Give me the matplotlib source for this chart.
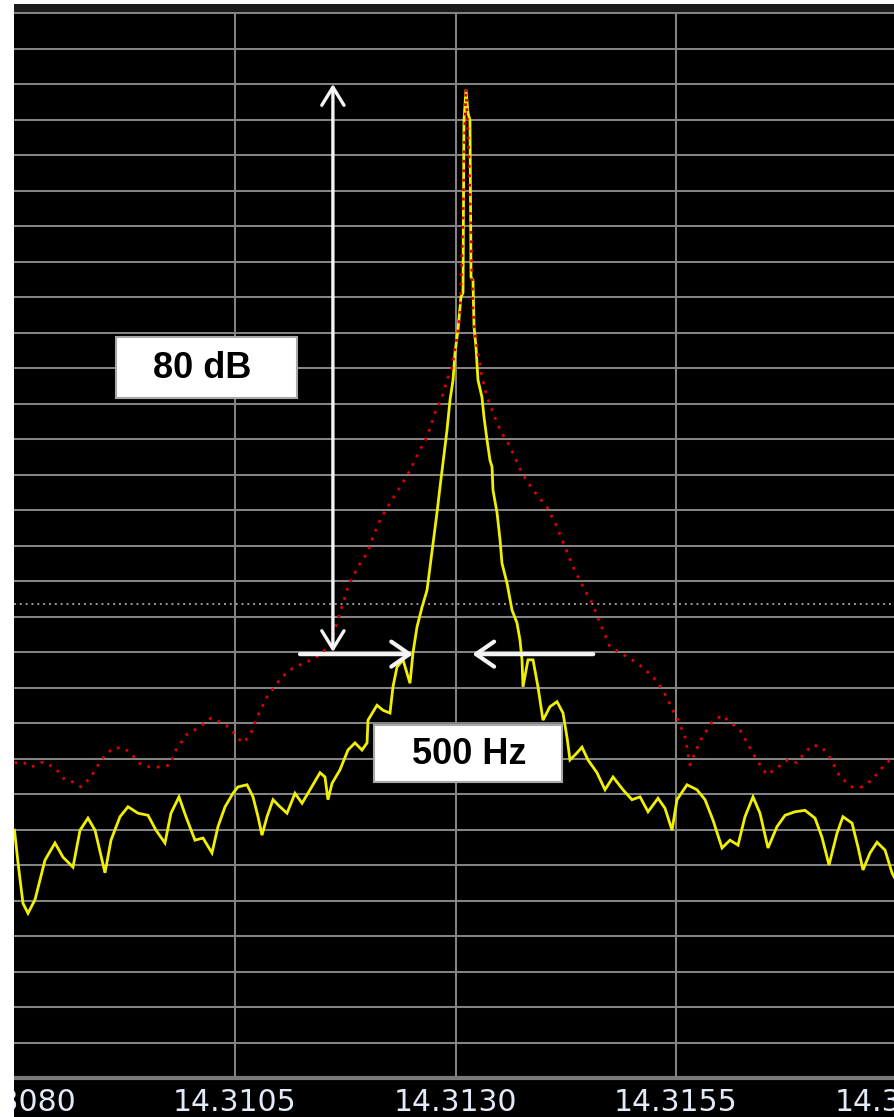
import numpy as np
import matplotlib
matplotlib.use("Agg")
import matplotlib.pyplot as plt
from matplotlib.patches import Rectangle, FancyArrowPatch

# ---- spectrum data: offset from 14.3130 MHz (Hz) and level (dB) ----
center_mhz = 14.3130

yellow_hz = [-5000, -4960, -4904, -4847, -4768, -4711, -4654, -4541, -4450, -4337,
             -4257, -4167, -4087, -3974, -3906, -3804, -3713, -3600, -3486, -3396,
             -3294, -3226, -3135, -3056, -2954, -2863, -2761, -2693, -2613, -2523,
             -2466, -2364, -2296, -2239, -2194, -2137, -2069, -1990, -1910, -1820,
             -1740, -1650, -1536, -1480, -1446, -1400, -1310, -1219, -1140, -1060,
             -1003, -992, -890, -822, -743, -709, -663, -595, -516, -482,
             -437, -380, -323, -289, -255, -210, -176, -142, -96, -62,
             -28, -6, 28, 62, 85, 96, 119, 142, 164, 176,
             198, 210, 232, 255, 300, 323, 357, 391, 414, 425,
             471, 505, 527, 584, 641, 697, 731, 754, 765, 822,
             879, 935, 992, 1071, 1151, 1219, 1264, 1298, 1378, 1434,
             1502, 1604, 1695, 1786, 1899, 2001, 2092, 2183, 2296, 2375,
             2455, 2511, 2625, 2738, 2829, 2920, 3022, 3112, 3203, 3282,
             3373, 3452, 3543, 3645, 3736, 3849, 3963, 4076, 4155, 4235,
             4326, 4393, 4496, 4564, 4620, 4700, 4779, 4870, 4949, 4990]
yellow_db = [-115.1, -119.7, -125.4, -126.8, -124.9, -122.1, -119.3, -116.9, -118.9, -120.3,
             -115.1, -113.4, -115.1, -121.1, -116.5, -113.2, -111.8, -112.7, -113.0, -115.1,
             -116.9, -112.7, -110.4, -113.2, -116.5, -116.2, -118.3, -114.6, -111.8, -109.9,
             -109.0, -108.7, -110.4, -113.2, -115.8, -113.2, -110.8, -111.8, -112.7, -109.9,
             -111.3, -109.4, -107.0, -107.6, -110.8, -108.5, -106.6, -103.8, -102.8, -103.8,
             -102.8, -99.6, -97.5, -98.2, -98.6, -94.9, -92.1, -91.1, -94.4, -90.1,
             -86.5, -83.7, -81.3, -78.0, -74.6, -70.4, -66.8, -63.4, -58.7, -54.5,
             -51.7, -47.9, -44.6, -40.0, -39.4, -15.1, -10.8, -14.1, -15.1, -37.2,
             -37.6, -44.2, -47.0, -51.7, -54.1, -56.9, -60.1, -63.0, -63.9, -67.2,
             -70.4, -74.2, -77.5, -80.3, -84.1, -85.9, -88.3, -91.1, -94.9, -91.1,
             -91.1, -94.9, -99.6, -97.7, -97.0, -98.6, -102.0, -105.2, -104.2, -103.4,
             -105.2, -107.0, -109.4, -107.6, -109.4, -110.8, -110.4, -112.5, -110.6, -112.0,
             -115.1, -110.8, -108.7, -109.4, -110.8, -113.7, -117.6, -116.5, -117.2, -113.2,
             -110.4, -112.7, -117.6, -114.6, -113.0, -112.5, -112.3, -113.4, -116.1, -120.0,
             -115.5, -113.2, -114.1, -117.5, -120.7, -118.3, -116.8, -117.9, -121.1, -122.1]

red_hz = [-5000, -4904, -4813, -4677, -4541, -4428, -4337, -4246, -4133, -4019,
          -3883, -3770, -3679, -3600, -3464, -3350, -3237, -3169, -3056, -2920,
          -2772, -2659, -2557, -2477, -2409, -2330, -2239, -2137, -2024, -1910,
          -1820, -1684, -1536, -1423, -1310, -1219, -1105, -1003, -935, -856,
          -743, -629, -516, -402, -323, -232, -153, -96, -40, 17,
          51, 85, 96, 119, 153, 164, 198, 221, 255, 300,
          357, 425, 505, 618, 754, 879, 1037, 1151, 1242, 1332,
          1446, 1548, 1638, 1752, 1865, 2001, 2115, 2239, 2353, 2466,
          2523, 2602, 2659, 2715, 2795, 2908, 3022, 3112, 3226, 3339,
          3430, 3532, 3645, 3770, 3872, 3963, 4053, 4155, 4246, 4360,
          4496, 4609, 4722, 4813, 4926, 4990]
red_db = [-105.6, -105.5, -106.2, -105.5, -106.3, -108.0, -108.3, -109.0, -107.6, -105.2,
          -103.5, -103.5, -104.2, -105.6, -106.2, -106.2, -105.9, -103.8, -101.7, -100.7,
          -99.3, -99.9, -100.7, -102.0, -102.8, -101.7, -98.9, -96.3, -94.4, -92.8,
          -92.1, -91.4, -90.4, -89.0, -84.5, -80.8, -78.0, -76.1, -73.8, -71.4,
          -69.0, -66.8, -64.4, -61.5, -59.7, -56.3, -54.1, -51.7, -49.9, -45.6,
          -42.8, -29.2, -20.7, -10.6, -20.3, -25.9, -41.8, -45.1, -47.9, -51.3,
          -54.1, -56.3, -58.7, -61.1, -64.8, -67.2, -69.6, -72.4, -75.2, -78.0,
          -80.8, -83.1, -85.9, -89.3, -90.1, -91.1, -92.1, -93.5, -95.4, -98.2,
          -99.6, -102.0, -105.9, -104.2, -102.0, -99.9, -98.9, -99.9, -101.0, -103.5,
          -105.5, -107.3, -106.3, -105.2, -105.6, -104.1, -103.1, -103.4, -104.9, -107.6,
          -109.0, -109.0, -108.0, -106.6, -105.2, -105.5]

tick_hz = [-5000, -2500, 0, 2500, 5000]
grid_hz = [-2500, 0, 2500]
threshold_db = -83.2

# measurement annotations
peak_level_db = -10.0
span_db = 80
span_x_hz = -1390
bw_hz = 500
bw_center_hz = -145
bw_level_db = -90.3
bw_arrow_start_hz = [-1763, 1562]

# ---- figure ----
W, H = 894, 1117
fig = plt.figure(figsize=(W / 100, H / 100), dpi=100, facecolor="black")
ax_left, ax_right = 14.5, 896.5
ax_bottom, ax_top = 1078.0, 10.9
ax = fig.add_axes([ax_left / W, (H - ax_bottom) / H,
                   (ax_right - ax_left) / W, (ax_bottom - ax_top) / H])
ax.set_facecolor("black")
ax.set_xlim(-5000, 5000)
ax.set_ylim(-150, 0.3)

grid_col = "#838383"
ax.set_yticks(np.arange(-150, 1, 5))
ax.yaxis.grid(True, color=grid_col, lw=1.45)
ax.tick_params(axis="y", left=False, labelleft=False)
for gx in grid_hz:
    ax.axvline(gx, color=grid_col, lw=1.45, zorder=0.5)
ax.set_axisbelow(True)
ax.axhline(threshold_db, color="#9a9a9a", lw=1.4, linestyle=(0, (1, 2)), zorder=0.6)

ax.set_xticks(tick_hz)
ax.set_xticklabels([f"{center_mhz + h / 1e6:.4f}" for h in tick_hz])
ax.tick_params(axis="x", length=0, pad=7, labelsize=21.5, labelcolor="#e2eaf8")
for s in ("top", "left", "right"):
    ax.spines[s].set_visible(False)
ax.spines["bottom"].set_color("#7a7a7a")
ax.spines["bottom"].set_linewidth(3.0)

# traces
ax.plot(yellow_hz, yellow_db, color="#f0f000", lw=2.0, zorder=3,
        solid_joinstyle="miter")
ax.plot(red_hz, red_db, color="#dd0000", lw=2.0, linestyle=(0, (1, 2.4)), zorder=4)

# 80 dB span arrow
arrow_col = "#f4f4f4"
ax.add_patch(FancyArrowPatch((span_x_hz, peak_level_db - span_db), (span_x_hz, peak_level_db),
                             arrowstyle="<->,head_length=0.65,head_width=0.4",
                             mutation_scale=20, color=arrow_col, lw=2.4,
                             shrinkA=0, shrinkB=0, zorder=7))
# bandwidth arrows pointing at the 500 Hz edges
for start, edge in zip(bw_arrow_start_hz, (-bw_hz / 2, bw_hz / 2)):
    ax.add_patch(FancyArrowPatch((start, bw_level_db), (bw_center_hz + edge, bw_level_db),
                                 arrowstyle="->,head_length=0.65,head_width=0.45",
                                 mutation_scale=20, color=arrow_col, lw=3.0,
                                 shrinkA=0, shrinkB=5.5, zorder=7))

# label boxes
def label_box(x0, x1, y0, y1, text, tx, ty):
    ax.add_patch(Rectangle((x0, y0), x1 - x0, y1 - y0, facecolor="white",
                           edgecolor="#a8a8a8", lw=1.5, zorder=8))
    ax.text(tx, ty, text, ha="center", va="center", fontsize=26,
            fontweight="bold", family="Liberation Sans", color="black", zorder=9)

label_box(-3849, -1797, -54.2, -45.6, f"{span_db} dB", -2874, -50.0)
label_box(-924, 1207, -108.3, -100.3, f"{bw_hz} Hz", 159, -104.5)

# frame around the plot
fig.add_artist(Rectangle((0, 0), 13.5 / W, 1, transform=fig.transFigure,
                         facecolor="white", edgecolor="none", zorder=20))
fig.add_artist(Rectangle((0, (H - 4) / H), 1, 4 / H, transform=fig.transFigure,
                         facecolor="white", edgecolor="none", zorder=20))
fig.add_artist(Rectangle((13.5 / W, (H - 12) / H), 1, 8 / H, transform=fig.transFigure,
                         facecolor="#1b1b1b", edgecolor="none", zorder=20))

fig.savefig("out.png", dpi=100, facecolor=fig.get_facecolor())
